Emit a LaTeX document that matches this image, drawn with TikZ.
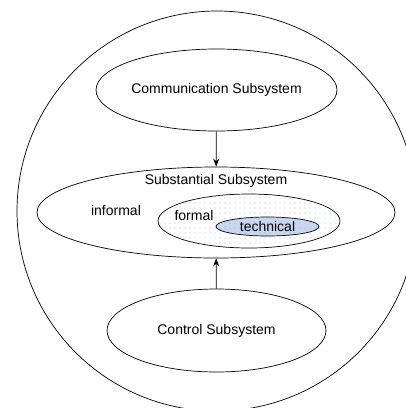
\documentclass[tikz,border=0pt]{standalone}
\usepackage{fontspec}
\setmainfont{Liberation Sans}
\usetikzlibrary{arrows.meta, positioning, shapes.geometric, patterns.meta}
\usepackage{xcolor}
\definecolor{dotblue}{HTML}{B4C8E8}
\definecolor{techblue}{HTML}{C9D6EE}
\definecolor{techdot}{HTML}{9FB6DE}

\pgfdeclarepattern{
  name=fewdots,
  type=uncolored,
  bottom left={\pgfpoint{-1pt}{-1pt}},
  top right={\pgfpoint{4pt}{4pt}},
  tile size={\pgfpoint{5pt}{5pt}},
  code={\pgfpathcircle{\pgfpointorigin}{0.6pt}\pgfusepath{fill}}
}

\begin{document}
\begin{tikzpicture}[x=1pt,y=-1pt,>={Stealth[length=8pt,width=6pt]},line width=0.7pt]
    % styles
    \tikzset{subsys/.style={ellipse,draw,inner sep=0pt,font=\fontsize{14}{16}\selectfont},
             lbl/.style={inner sep=0pt,font=\fontsize{14}{16}\selectfont}}
    \clip (0,0) rectangle (406,408);
    \useasboundingbox (0,0) rectangle (406,408);

    % outer sphere
    \node[circle,draw,minimum size=400pt,inner sep=0pt] (world) at (217,211) {};

    % nodes
    \node[subsys,minimum width=219pt,minimum height=82pt] (comm) at (216.5,90) {Communication Subsystem};
    \node[subsys,minimum width=358pt,minimum height=91pt] (subst) at (216,212.5) {};
    \node[subsys,minimum width=182pt,minimum height=54pt,fill=white,
          postaction={pattern=fewdots,pattern color=dotblue}] (formal) at (249,221) {};
    \node[subsys,minimum width=103pt,minimum height=19pt,fill=techblue,
          postaction={pattern=fewdots,pattern color=techdot}] (tech) at (267.5,226.5) {technical};
    \node[subsys,minimum width=219pt,minimum height=83pt] (ctrl) at (216.5,330.5) {Control Subsystem};

    % labels inside the substantial subsystem
    \node[lbl] (substlbl) at (216,181) {Substantial Subsystem};
    \node[lbl] (informal) at (116,210) {informal};
    \node[lbl] (formallbl) at (194,215) {formal};

    % edges
    \draw[->] (comm) -- (subst);
    \draw[->] (ctrl) -- (subst);
\end{tikzpicture}
\end{document}
